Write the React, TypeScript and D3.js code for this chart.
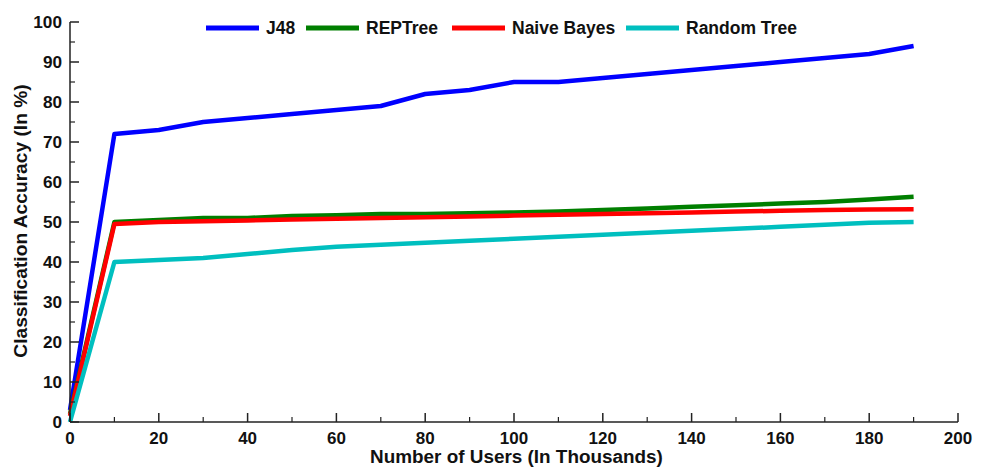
import React from "react";
import * as d3 from "d3";

const xValues = [0, 10, 20, 30, 40, 50, 60, 70, 80, 90, 100, 110, 120, 130, 140, 150, 160, 170, 180, 190];
const j48 = [3, 72, 73, 75, 76, 77, 78, 79, 82, 83, 85, 85, 86, 87, 88, 89, 90, 91, 92, 94];
const repTree = [2, 50, 50.5, 51, 51, 51.5, 51.7, 52, 52, 52.2, 52.4, 52.6, 53, 53.4, 53.8, 54.2, 54.6, 55, 55.6, 56.3];
const naiveBayes = [1.5, 49.5, 50, 50.2, 50.4, 50.6, 50.8, 51, 51.2, 51.4, 51.6, 51.8, 52, 52.2, 52.4, 52.6, 52.8, 53, 53.1, 53.2];
const randomTree = [0, 40, 40.5, 41, 42, 43, 43.8, 44.3, 44.8, 45.3, 45.8, 46.3, 46.8, 47.3, 47.8, 48.3, 48.8, 49.3, 49.8, 50];

const seriesNames = ["J48", "REPTree", "Naive Bayes", "Random Tree"];
const seriesData = [j48, repTree, naiveBayes, randomTree];
const seriesColors = ["#0000ff", "#007f00", "#ff0000", "#00bfbf"];

const xTicks = [0, 20, 40, 60, 80, 100, 120, 140, 160, 180, 200];
const xMinor = [10, 30, 50, 70, 90, 110, 130, 150, 170, 190];
const yTicks = [0, 10, 20, 30, 40, 50, 60, 70, 80, 90, 100];
const yMinor = [5, 15, 25, 35, 45, 55, 65, 75, 85, 95];

const legendX = [206, 306, 452, 626];

export default function App() {
  const W = 986, H = 467;
  const x = d3.scaleLinear().domain([0, 200]).range([70, 958]);
  const y = d3.scaleLinear().domain([0, 100]).range([422, 22]);
  const line = d3.line<number>().x((_, i) => x(xValues[i])).y((d) => y(d));
  const font = "'Liberation Sans', Arial, Helvetica, sans-serif";
  const axisColor = "#222";

  return (
    <svg width={W} height={H} style={{ position: "absolute", left: 0, top: 0, background: "#fff" }} fontFamily={font}>
      {seriesData.map((d, i) => (
        <path key={i} d={line(d) || ""} fill="none" stroke={seriesColors[i]} strokeWidth={4.5} strokeLinejoin="round" />
      ))}
      <line x1={x(0)} x2={x(0)} y1={y(0)} y2={y(100)} stroke={axisColor} strokeWidth={1.5} />
      <line x1={x(0)} x2={x(200)} y1={y(0)} y2={y(0)} stroke={axisColor} strokeWidth={1.5} />
      {yTicks.map((t) => (
        <g key={"y" + t}>
          <line x1={x(0)} x2={x(0) + 9} y1={y(t)} y2={y(t)} stroke={axisColor} strokeWidth={1.5} />
          <text x={62} y={y(t)} dy="0.36em" textAnchor="end" fontSize={17.2} fontWeight="bold" fill="#111">{t}</text>
        </g>
      ))}
      {yMinor.map((t) => (
        <line key={"ym" + t} x1={x(0)} x2={x(0) + 5} y1={y(t)} y2={y(t)} stroke={axisColor} strokeWidth={1.2} />
      ))}
      {xTicks.map((t) => (
        <g key={"x" + t}>
          <line x1={x(t)} x2={x(t)} y1={y(0)} y2={y(0) - 9} stroke={axisColor} strokeWidth={1.5} />
          <text x={x(t)} y={443.5} textAnchor="middle" fontSize={17} fontWeight="bold" fill="#111">{t}</text>
        </g>
      ))}
      {xMinor.map((t) => (
        <line key={"xm" + t} x1={x(t)} x2={x(t)} y1={y(0)} y2={y(0) - 5} stroke={axisColor} strokeWidth={1.2} />
      ))}
      <text x={516.5} y={463} textAnchor="middle" fontSize={18.9} fontWeight="bold" fill="#111">
        Number of Users (In Thousands)
      </text>
      <text transform={`translate(27, 221) rotate(-90)`} textAnchor="middle" fontSize={19.2} fontWeight="bold" fill="#111">
        Classification Accuracy (In %)
      </text>
      {seriesNames.map((n, i) => (
        <g key={"l" + i}>
          <line x1={legendX[i]} x2={legendX[i] + 53} y1={28} y2={28} stroke={seriesColors[i]} strokeWidth={5} />
          <text x={legendX[i] + 60} y={28} dy="0.36em" fontSize={17.5} fontWeight="bold" fill="#111">{n}</text>
        </g>
      ))}
    </svg>
  );
}
